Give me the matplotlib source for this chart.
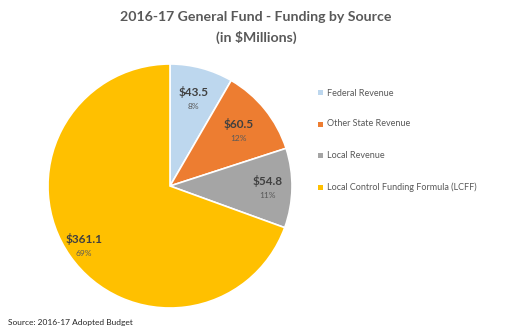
import matplotlib
matplotlib.use("Agg")
import matplotlib.pyplot as plt
import numpy as np

categories = ["Federal Revenue", "Other State Revenue", "Local Revenue",
              "Local Control Funding Formula (LCFF)"]
values = [43.5, 60.5, 54.8, 361.1]
percent_labels = ["8%", "12%", "11%", "69%"]
colors = ["#BDD7EE", "#ED7D31", "#A5A5A5", "#FFC000"]

plt.rcParams["font.family"] = ["Lato", "DejaVu Sans"]

W, H = 512, 334
fig = plt.figure(figsize=(W / 100, H / 100), dpi=100)
fig.patch.set_facecolor("white")

cx, cy, r = 170, 186, 122
ax = fig.add_axes([(cx - r) / W, (H - cy - r) / H, 2 * r / W, 2 * r / H])
wedges, _ = ax.pie(values, colors=colors, startangle=90, counterclock=False,
                   radius=1.0, wedgeprops=dict(edgecolor="white", linewidth=1.2))
ax.set_xlim(-1, 1)
ax.set_ylim(-1, 1)
ax.set_aspect("equal")
ax.axis("off")

# value labels placed along each wedge's bisector
label_radii = [0.74, 0.72, 0.80, 0.86]
total = sum(values)
angle = 90.0
for v, pct, lr in zip(values, percent_labels, label_radii):
    span = 360.0 * v / total
    mid = np.deg2rad(angle - span / 2)
    angle -= span
    x, y = lr * np.cos(mid), lr * np.sin(mid)
    ax.text(x, y + 0.055, f"${v:.1f}", ha="center", va="center",
            fontsize=8.5, fontweight="bold", color="#404040")
    ax.text(x, y - 0.06, pct, ha="center", va="center",
            fontsize=6, color="#595959")

# legend
ys = [93, 124, 155, 187]
for name, col, y in zip(categories, colors, ys):
    fig.patches.append(plt.Rectangle(((320 - 2.5) / W, (H - y - 2.5) / H), 5 / W, 5 / H,
                                     transform=fig.transFigure, facecolor=col,
                                     edgecolor="none"))
    fig.text(327 / W, (H - y) / H, name, ha="left", va="center",
             fontsize=6.5, color="#595959")

fig.text(256 / W, (H - 17) / H, "2016-17 General Fund - Funding by Source",
         ha="center", va="center", fontsize=10.2, fontweight="bold", color="#595959")
fig.text(256 / W, (H - 37) / H, "(in $Millions)",
         ha="center", va="center", fontsize=10.2, fontweight="bold", color="#595959")
fig.text(8 / W, (H - 322) / H, "Source: 2016-17 Adopted Budget",
         ha="left", va="center", fontsize=6, color="#262626")

fig.savefig("out.png", dpi=100, facecolor="white")
